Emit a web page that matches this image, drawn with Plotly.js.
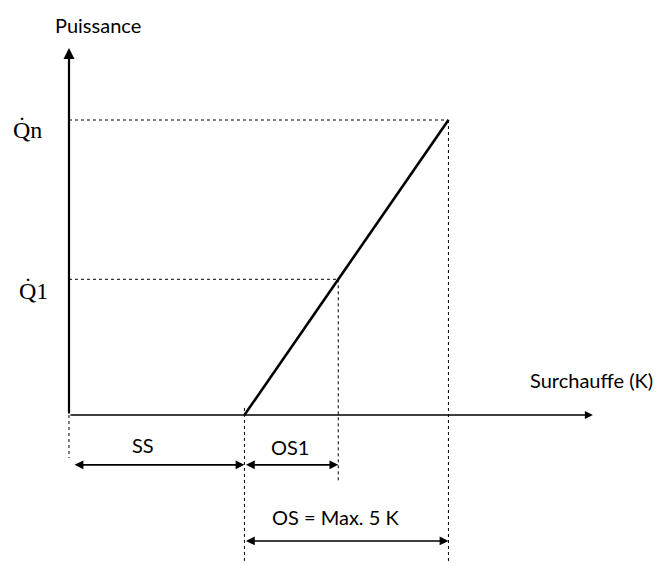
<!DOCTYPE html>
<html>
<head>
<meta charset="utf-8">
<script src="https://cdn.plot.ly/plotly-3.0.1.min.js"></script>
<style>html,body{margin:0;padding:0;background:#fff;}#chart{width:660px;height:563px;}</style>
</head>
<body>
<div id="chart"></div>
<script>
// Values (superheat in K, power relative to nominal)
const ssWidth = 4.3;      // static superheat SS
const os1Width = 2.3;     // opening superheat OS1
const osMax = 5;          // OS = Max. 5 K
const qNominal = 1.0;     // Qn
const q1 = qNominal * os1Width / osMax; // Q1 on the line

const lineX = [ssWidth, ssWidth + osMax];
const lineY = [0, qNominal];

const labels = {
  yTitle: 'Puissance',
  xTitle: 'Surchauffe (K)',
  qn: 'Q\u0307n',
  q1: 'Q\u03071',
  ss: 'SS',
  os1: 'OS1',
  os: 'OS = Max. 5 K'
};

const xRange = [-1.691, 14.485];
const yRange = [-0.5017, 1.4068];
const yTip = 1.244, xTip = 12.84;
const dimY1 = -0.169, dimY2 = -0.427;

const dot = {color: '#000', width: 1, dash: 'dot'};
const shapes = [
  {type:'line', x0:0, x1:ssWidth + osMax, y0:qNominal, y1:qNominal, line:dot},
  {type:'line', x0:0, x1:ssWidth + os1Width, y0:q1, y1:q1, line:dot},
  {type:'line', x0:0, x1:0, y0:0, y1:-0.146, line:dot},
  {type:'line', x0:ssWidth, x1:ssWidth, y0:0.024, y1:yRange[0], line:dot},
  {type:'line', x0:ssWidth + os1Width, x1:ssWidth + os1Width, y0:q1, y1:-0.23, line:dot},
  {type:'line', x0:ssWidth + osMax, x1:ssWidth + osMax, y0:qNominal, y1:yRange[0], line:dot}
];

const arrow = (x, y, ax, ay, w, both) => ({
  x, y, ax, ay, xref:'x', yref:'y', axref:'x', ayref:'y', text:'',
  showarrow:true, arrowhead:2, arrowsize: both ? 1.1 : 1.0, arrowwidth:w, arrowcolor:'#000',
  arrowside: both ? 'end+start' : 'end', standoff:0, startstandoff:0
});

const txt = (x, y, text, size, family, xanchor) => ({
  x, y, xref:'x', yref:'y', text, showarrow:false, xanchor: xanchor || 'center',
  font:{family: family || 'Lato, "Open Sans", sans-serif', size, color:'#000'}
});

const serif = '"Liberation Serif", "Times New Roman", serif';
const annotations = [
  arrow(0, yTip, 0, 0, 2.2, false),
  arrow(xTip, 0, 0, 0, 1.6, false),
  arrow(ssWidth, dimY1, 0.1, dimY1, 1.6, true),
  arrow(ssWidth + os1Width, dimY1, ssWidth, dimY1, 1.6, true),
  arrow(ssWidth + osMax, dimY2, ssWidth, dimY2, 1.6, true),
  txt(0.71, 1.322, labels.yTitle, 20),
  txt(14.36, 0.119, labels.xTitle, 20, null, 'right'),
  txt(-1.02, 0.965, labels.qn, 24, serif),
  txt(-0.88, 0.42, labels.q1, 24, serif),
  txt(1.81, -0.102, labels.ss, 20),
  txt(5.42, -0.108, labels.os1, 20),
  txt(6.52, -0.346, labels.os, 20)
];

const data = [{
  x: lineX, y: lineY, type:'scatter', mode:'lines',
  line:{color:'#000', width:2.6}, hoverinfo:'skip'
}];

const layout = {
  width:660, height:563,
  margin:{l:0, r:0, t:0, b:0},
  paper_bgcolor:'#fff', plot_bgcolor:'#fff',
  showlegend:false,
  xaxis:{range:xRange, visible:false, fixedrange:true},
  yaxis:{range:yRange, visible:false, fixedrange:true},
  shapes, annotations
};

Plotly.newPlot('chart', data, layout, {staticPlot:true, displayModeBar:false});
</script>
</body>
</html>
